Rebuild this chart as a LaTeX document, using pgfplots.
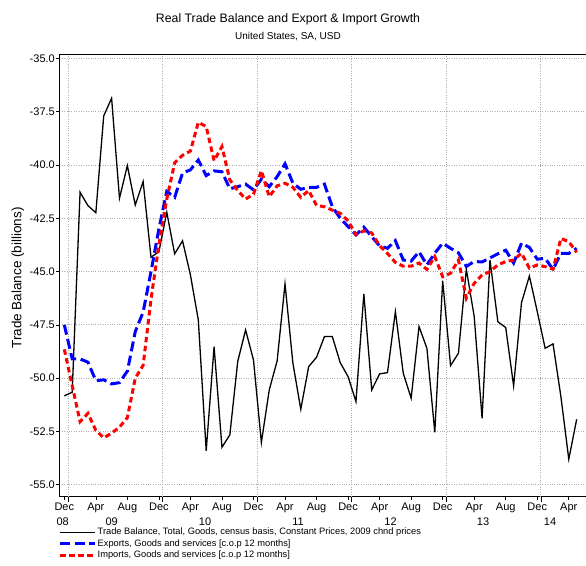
\documentclass[border=0pt]{standalone}
\usepackage{fontspec}
\setmainfont{Liberation Sans}
\usepackage{pgfplots}
\usepackage{pgfplotstable}
\pgfplotsset{compat=1.18}
\pgfplotstableread{
m tb ex im
0 -50.83 -47.50 -48.65
1 -50.66 -49.10 -50.35
2 -41.28 -49.10 -52.04
3 -41.91 -49.25 -51.65
4 -42.24 -50.12 -52.45
5 -37.70 -50.08 -52.80
6 -36.87 -50.27 -52.58
7 -41.56 -50.21 -52.30
8 -40.03 -49.67 -51.85
9 -41.88 -47.82 -50.00
10 -40.78 -46.90 -49.40
11 -44.33 -45.00 -46.30
12 -44.07 -43.00 -43.75
13 -42.22 -41.24 -41.60
14 -44.17 -41.52 -39.90
15 -43.56 -40.38 -39.55
16 -45.16 -40.23 -39.35
17 -47.27 -39.77 -38.00
18 -53.41 -40.50 -38.20
19 -48.52 -40.28 -39.80
20 -53.24 -40.32 -39.14
21 -52.66 -41.12 -40.70
22 -49.22 -41.02 -41.20
23 -47.74 -40.90 -41.60
24 -49.15 -41.17 -41.37
25 -53.02 -40.67 -40.27
26 -50.55 -41.02 -41.49
27 -49.19 -40.55 -40.98
28 -45.58 -39.95 -40.86
29 -49.30 -40.86 -41.05
30 -51.46 -41.14 -41.52
31 -49.46 -41.06 -41.20
32 -49.02 -41.05 -41.90
33 -48.05 -40.90 -41.96
34 -48.05 -41.96 -42.12
35 -49.27 -42.50 -42.27
36 -49.93 -42.89 -42.62
37 -51.10 -43.28 -43.27
38 -46.05 -42.92 -43.09
39 -50.55 -43.36 -43.19
40 -49.80 -43.80 -43.79
41 -49.74 -43.91 -44.15
42 -46.88 -43.55 -44.57
43 -49.77 -44.46 -44.75
44 -50.94 -44.51 -44.75
45 -47.58 -44.07 -44.60
46 -48.60 -44.69 -44.90
47 -52.54 -44.14 -44.30
48 -45.43 -43.67 -45.24
49 -49.41 -43.91 -45.08
50 -48.83 -44.12 -44.46
51 -44.89 -44.76 -46.25
52 -47.11 -44.53 -45.55
53 -51.88 -44.55 -45.16
54 -44.46 -44.36 -45.00
55 -47.35 -44.17 -44.69
56 -47.63 -44.00 -44.53
57 -50.36 -44.60 -44.46
58 -46.46 -43.67 -44.14
59 -45.21 -43.87 -44.84
60 -46.88 -44.42 -44.69
61 -48.60 -44.38 -44.77
62 -48.39 -44.90 -44.89
63 -50.87 -44.15 -43.45
64 -53.80 -44.15 -43.60
65 -51.93 -43.91 -44.10
}\datatable
\definecolor{gridgray}{RGB}{175,175,175}
\begin{document}
\begin{tikzpicture}
\begin{axis}[
  at={(0,0)}, anchor=south west,
  scale only axis,
  width=530.5bp, height=442bp,
  xmin=-0.61, xmax=66.69,
  ymin=-55.56, ymax=-34.83,
  axis line style={black, line width=0.8bp},
  tick align=outside,
  xtick pos=bottom, ytick pos=left,
  major tick length=3.5bp,
  tick style={black, line width=0.6bp},
  xtick={0,4,...,64},
  xticklabels={Dec,Apr,Aug,Dec,Apr,Aug,Dec,Apr,Aug,Dec,Apr,Aug,Dec,Apr,Aug,Dec,Apr},
  extra x ticks={0.45,12.45,24.45,36.45,48.45,60.45},
  extra x tick labels={},
  extra x tick style={grid=major, major tick length=5bp},
  ytick={-55,-52.5,...,-35},
  ymajorgrids=true,
  grid style={gridgray, dotted, line width=0.7bp},
  /pgf/number format/assume math mode=true,
  /pgf/number format/.cd, fixed, fixed zerofill, precision=1, /pgfplots/.cd,
  x tick label style={font=\fontsize{11bp}{13bp}\selectfont, inner sep=0pt, text height=8bp, text depth=2.4bp, anchor=north, yshift=-2bp},
  y tick label style={font=\fontsize{11bp}{13bp}\selectfont, inner sep=0pt, anchor=east, xshift=-1bp},
  ylabel={Trade Balance (billions)},
  ylabel style={at={(axis description cs:-0.0783,0.495)}, anchor=center, font=\fontsize{13.5bp}{16bp}\selectfont},
  legend style={at={(axis description cs:0,0)}, anchor=north west, yshift=-30bp, xshift=-1bp,
    draw=none, fill=none, inner sep=0pt, row sep=0pt,
    nodes={inner sep=1bp, text height=7bp, text depth=2.3bp, font=\fontsize{9.3bp}{11bp}\selectfont, anchor=west}},
  legend cell align=left,
  legend image code/.code={\draw[#1] (0bp,0bp) -- (35bp,0bp);},
  clip=true,
]
\addplot[black, line width=1.3bp, line join=miter] table[x=m, y=tb] {\datatable};
\addlegendentry{Trade Balance, Total, Goods, census basis, Constant Prices, 2009 chnd prices}
\addplot[blue, line width=3bp, dash pattern=on 10bp off 4.5bp] table[x=m, y=ex] {\datatable};
\addlegendentry{Exports, Goods and services [c.o.p 12 months]}
\addplot[red, line width=3bp, dash pattern=on 5.5bp off 3.5bp] table[x=m, y=im] {\datatable};
\addlegendentry{Imports, Goods and services [c.o.p 12 months]}
\end{axis}
% year labels
\begin{scope}[every node/.style={font=\fontsize{11bp}{13bp}\selectfont, inner sep=0pt, text height=8bp, text depth=2.4bp, anchor=center}]
\node at (3.2bp,-26bp) {08};
\node at (52.2bp,-26bp) {09};
\node at (145.5bp,-26bp) {10};
\node at (238.5bp,-26bp) {11};
\node at (331bp,-26bp) {12};
\node at (423.5bp,-26bp) {13};
\node at (490.5bp,-26bp) {14};
\end{scope}
\node[font=\fontsize{12.3bp}{14bp}\selectfont] at (228.5bp,477.7bp) {Real Trade Balance and Export \& Import Growth};
\node[font=\fontsize{10bp}{12bp}\selectfont] at (228.5bp,459.7bp) {United States, SA, USD};
\pgfresetboundingbox
\path[use as bounding box] (-59.5bp,-69.3bp) rectangle (526.5bp,496.7bp);
\end{tikzpicture}
\end{document}
